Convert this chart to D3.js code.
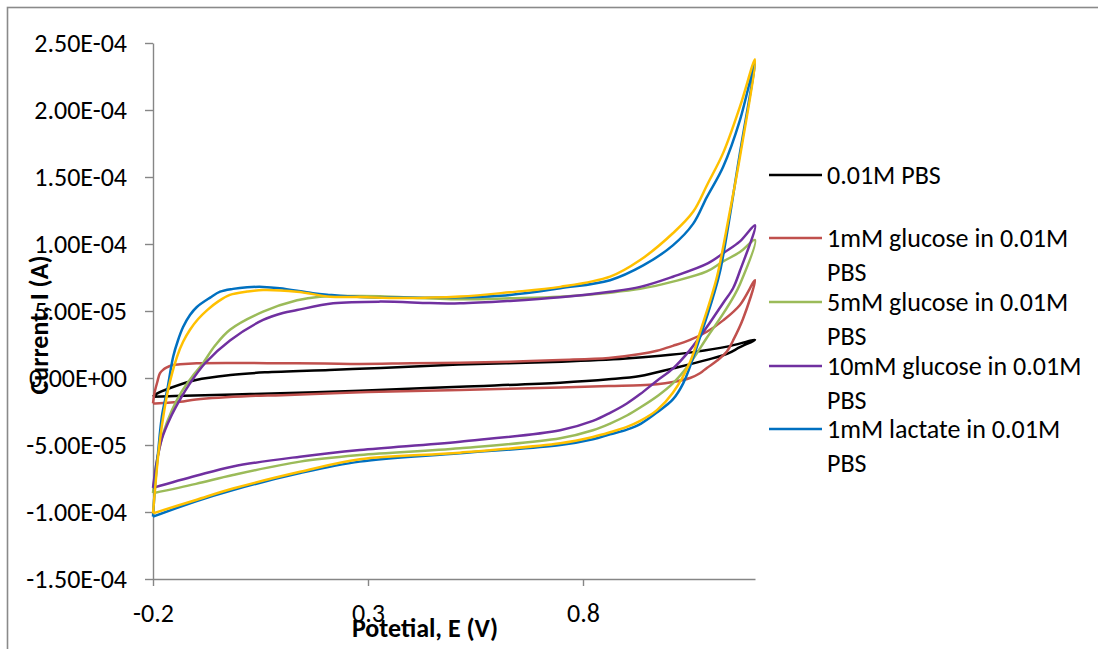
<!DOCTYPE html>
<html>
<head>
<meta charset="utf-8">
<script src="https://cdn.jsdelivr.net/npm/d3@7"></script>
<style>
  html, body { margin: 0; padding: 0; background: #ffffff; }
  svg { display: block; }
  text { font-family: Carlito, Calibri, "Open Sans", sans-serif; fill: #000; }
</style>
</head>
<body>
<svg id="chart" width="1098" height="649"></svg>
<script>
// Cyclic voltammograms: potential E (V) against current I, stored in µA.
const seriesNames = [
  "0.01M PBS",
  "1mM glucose in 0.01M PBS",
  "5mM glucose in 0.01M PBS",
  "10mM glucose in 0.01M PBS",
  "1mM lactate in 0.01M PBS",
  "1mM lactate + glucose in 0.01M PBS"
];
const seriesColors = ["#000000", "#C0504D", "#9BBB59", "#7030A0", "#0070C0", "#FFC000"];
const legendCount = 5;

// each loop: forward (anodic) sweep, then the reverse sweep back to -0.2 V
const pbs = [
  [-0.2,-14],[-0.19,-11.5],[-0.16,-7.5],[-0.1,-1.5],[-0.02,2.2],[0.06,4.2],[0.21,6],[0.33,7.5],
  [0.51,10],[0.75,12.2],[0.9,14.5],[0.98,16.6],[1.06,19.5],[1.135,23.4],[1.2,28.4],
  [1.165,23],[1.135,18],[1.088,13.5],[1.009,7.2],[0.933,1.5],[0.86,-1],[0.747,-3.5],[0.514,-6.5],
  [0.281,-9.5],[0.026,-12],[-0.15,-13.5],[-0.2,-14]
];
const glucose1 = [
  [-0.2,-19],[-0.197,-12],[-0.195,-9],[-0.19,-3],[-0.184,3.5],[-0.175,6.5],[-0.169,7.8],[-0.155,9.5],
  [-0.137,10.2],[-0.098,11],[0.0,11.2],[0.1,11],[0.2,10.8],[0.281,10.5],[0.4,11],[0.514,11.4],
  [0.63,12.2],[0.747,13.4],[0.86,15],[0.933,17.9],[0.972,20.4],[1.009,24],[1.049,28.4],[1.088,34.5],
  [1.126,43],[1.165,54.5],[1.2,73],
  [1.172,44],[1.149,28],[1.135,20],[1.112,13],[1.088,7.5],[1.072,3.5],[1.049,0],[1.009,-3],
  [0.972,-4.7],[0.933,-5.5],[0.86,-6],[0.747,-7],[0.514,-9],[0.3,-10.5],[0.1,-12.8],[0.026,-13.4],
  [-0.1,-16],[-0.137,-17.7],[-0.195,-19],[-0.2,-19]
];
const glucose5 = [
  [-0.2,-86],[-0.191,-62],[-0.177,-42],[-0.156,-24],[-0.133,-10],[-0.109,1],[-0.086,10],[-0.056,24],
  [-0.021,36],[0.056,49.5],[0.135,58],[0.188,60.7],[0.281,61.2],[0.328,61],[0.514,58.7],[0.63,59.5],
  [0.747,60.7],[0.863,63.7],[0.933,66.5],[1.009,71.9],[1.088,79.5],[1.126,87],[1.165,94],[1.2,103],
  [1.165,70],[1.149,60],[1.126,48],[1.088,30],[1.049,11],[1.009,-4],[0.975,-13],[0.933,-22],
  [0.902,-28],[0.863,-34],[0.823,-39],[0.747,-45],[0.514,-52.5],[0.281,-57.5],[0.142,-62.4],
  [-0.014,-72.4],[-0.1,-79],[-0.2,-86]
];
const glucose10 = [
  [-0.2,-82],[-0.191,-62],[-0.179,-45],[-0.16,-30],[-0.137,-16],[-0.114,-4],[-0.079,11],[-0.021,28],
  [0.056,43.3],[0.102,48.5],[0.135,50.7],[0.219,55.7],[0.328,57],[0.444,56],[0.514,55.7],[0.63,57.5],
  [0.747,60.2],[0.863,64.4],[0.933,68],[1.009,75.6],[1.09,85.5],[1.13,94],[1.165,102],[1.2,114],
  [1.165,80],[1.149,67],[1.126,56],[1.088,38],[1.049,21],[1.009,7],[0.972,-2],[0.933,-12],
  [0.902,-19],[0.863,-26],[0.823,-32],[0.747,-39],[0.514,-47.5],[0.281,-53.7],[0.142,-58.7],
  [-0.014,-66],[-0.1,-73],[-0.2,-82]
];
const lactate1 = [
  [-0.2,-103.5],[-0.195,-80],[-0.188,-55],[-0.179,-28],[-0.167,-9],[-0.153,16],[-0.142,28],[-0.13,38],
  [-0.114,47],[-0.098,53],[-0.067,60],[-0.044,64.4],[-0.014,66.5],[0.019,67.7],[0.056,68],[0.095,67],
  [0.172,63.2],[0.212,62],[0.281,60.5],[0.374,60],[0.514,60.2],[0.63,62],[0.747,67],[0.863,73],
  [0.94,84],[1.009,99],[1.056,115],[1.088,135],[1.126,157.7],[1.165,192.5],[1.2,236],
  [1.165,168],[1.119,80],[1.102,60],[1.079,37],[1.056,15],[1.033,-4],[1.009,-16],[0.975,-25],
  [0.935,-34],[0.902,-38.5],[0.863,-42],[0.823,-45.7],[0.747,-50],[0.514,-56.2],[0.281,-62.4],
  [0.142,-71],[-0.014,-83.6],[-0.1,-92],[-0.2,-103.5]
];
const mixed = [
  [-0.2,-101],[-0.195,-82],[-0.188,-58],[-0.179,-35],[-0.165,-9],[-0.144,16],[-0.13,27],[-0.114,36],
  [-0.095,44],[-0.074,50.7],[-0.049,57],[-0.021,62],[0.019,64.5],[0.056,65.7],[0.135,64.4],[0.212,60.7],
  [0.281,60.5],[0.374,59.7],[0.514,60.8],[0.63,64],[0.747,68],[0.863,75.6],[0.933,88],[1.009,108],
  [1.056,124],[1.09,145],[1.126,168],[1.165,202.5],[1.2,237.8],
  [1.165,165],[1.142,125],[1.112,76],[1.095,57],[1.072,34],[1.049,12],[1.009,-11],[0.972,-24],
  [0.933,-32],[0.902,-36.5],[0.863,-40.5],[0.823,-44],[0.747,-48.7],[0.514,-55.7],[0.281,-60.6],
  [0.142,-70],[-0.014,-82.5],[-0.1,-91],[-0.2,-101]
];
const seriesData = [pbs, glucose1, glucose5, glucose10, lactate1, mixed];

const xTicks = [-0.2, 0.3, 0.8];
const yTicks = [-1.5e-4, -1.0e-4, -5.0e-5, 0, 5.0e-5, 1.0e-4, 1.5e-4, 2.0e-4, 2.5e-4];
const xTitle = "Potetial, E (V)";
const yTitle = "Current, I (A)";
const MICRO = 1e-6;

const svg = d3.select("#chart");
const plot = { left: 153, right: 755, top: 43, bottom: 579 };
const axisGrey = "#868686";
const fontSize = 26;

// outer chart frame
svg.append("rect")
  .attr("x", 7.5).attr("y", 7.5)
  .attr("width", 1200).attr("height", 800)
  .attr("fill", "none").attr("stroke", "#8a8a8a").attr("stroke-width", 1.6);

const x = d3.scaleLinear().domain([-0.2, 1.2]).range([plot.left, plot.right]);
const y = d3.scaleLinear().domain([-1.5e-4, 2.5e-4]).range([plot.bottom, plot.top]);

// Excel-style scientific labels, e.g. 2.50E-04
function sci(v) {
  const s = v.toExponential(2);
  const [m, e] = s.split("e");
  const sign = e[0] === "-" ? "-" : "+";
  const digits = e.replace(/[+-]/, "").padStart(2, "0");
  return m + "E" + sign + digits;
}
const fixed1 = v => v.toFixed(1);

const yAxis = svg.append("g")
  .attr("transform", `translate(${plot.left},0)`)
  .call(d3.axisLeft(y).tickValues(yTicks).tickFormat(sci).tickSizeInner(8).tickSizeOuter(0).tickPadding(18));
const xAxis = svg.append("g")
  .attr("transform", `translate(0,${plot.bottom})`)
  .call(d3.axisBottom(x).tickValues(xTicks).tickFormat(fixed1).tickSizeInner(7).tickSizeOuter(0).tickPadding(18));

[xAxis, yAxis].forEach(g => {
  g.select(".domain").attr("stroke", axisGrey).attr("stroke-width", 1.4);
  g.selectAll(".tick line").attr("stroke", axisGrey).attr("stroke-width", 1.4);
  g.selectAll(".tick text")
    .attr("font-family", "Carlito, Calibri, 'Open Sans', sans-serif")
    .attr("font-size", fontSize).attr("fill", "#000");
});

// data curves
const line = d3.line()
  .curve(d3.curveCatmullRom.alpha(0.5))
  .x(d => x(d[0]))
  .y(d => y(d[1] * MICRO));

svg.append("g").selectAll("path")
  .data(seriesData)
  .join("path")
  .attr("d", line)
  .attr("fill", "none")
  .attr("stroke", (d, i) => seriesColors[i])
  .attr("stroke-width", 2.5)
  .attr("stroke-linejoin", "round");

// axis titles
svg.append("text")
  .attr("x", 425).attr("y", 637)
  .attr("text-anchor", "middle")
  .attr("font-size", fontSize).attr("font-weight", "bold")
  .text(xTitle);
svg.append("text")
  .attr("transform", "translate(48,325) rotate(-90)")
  .attr("text-anchor", "middle")
  .attr("font-size", fontSize).attr("font-weight", "bold")
  .text(yTitle);

// legend: long names wrap after "0.01M"
const legendRows = [175, 238, 302, 366, 429];
const legend = svg.append("g");
seriesNames.slice(0, legendCount).forEach((name, i) => {
  const yy = legendRows[i];
  legend.append("line")
    .attr("x1", 769).attr("x2", 822).attr("y1", yy).attr("y2", yy)
    .attr("stroke", seriesColors[i]).attr("stroke-width", 2.5);
  const words = name.endsWith(" PBS") && name !== "0.01M PBS"
    ? [name.slice(0, -4), "PBS"] : [name];
  const t = legend.append("text")
    .attr("x", 827).attr("y", yy)
    .attr("font-size", fontSize);
  words.forEach((w, k) => {
    t.append("tspan").attr("x", 827).attr("dy", k === 0 ? "0.35em" : "34px").text(w);
  });
});
</script>
</body>
</html>
